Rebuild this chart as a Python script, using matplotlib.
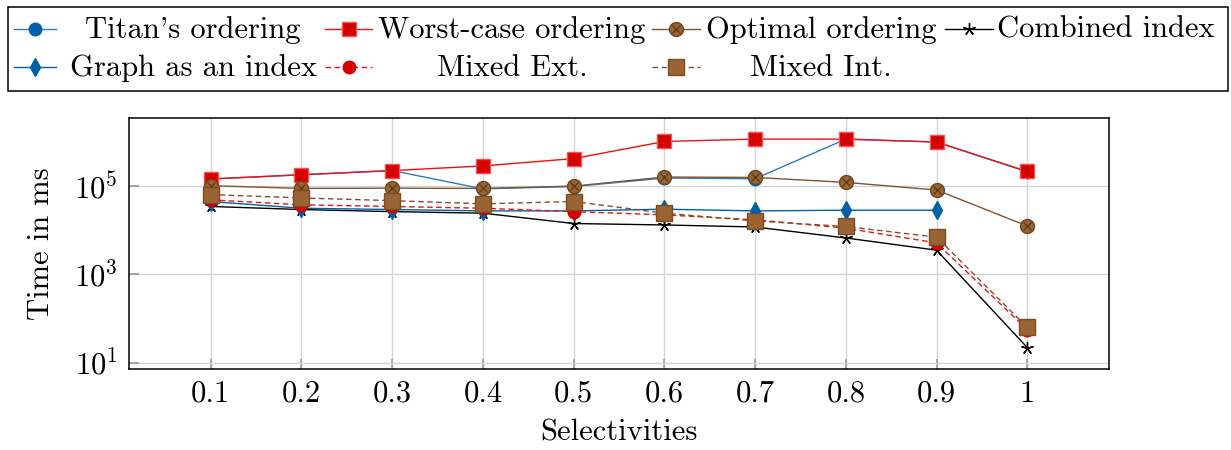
import matplotlib
matplotlib.use("Agg")
import matplotlib.pyplot as plt
from matplotlib.lines import Line2D
from matplotlib.patches import Rectangle

plt.rcParams["font.family"] = ["cmr10", "DejaVu Serif"]
plt.rcParams["mathtext.fontset"] = "cm"
plt.rcParams["axes.formatter.use_mathtext"] = True

FS = 22
W, H = 1231, 450

selectivity = [0.1, 0.2, 0.3, 0.4, 0.5, 0.6, 0.7, 0.8, 0.9, 1.0]
titan = [1.42e5, 1.77e5, 2.2e5, 8.5e4, 9.6e4, 1.49e5, 1.44e5, 1.13e6, 9.7e5, 2.05e5]
worst_case = [1.42e5, 1.77e5, 2.2e5, 2.8e5, 4.1e5, 1.0e6, 1.13e6, 1.13e6, 9.7e5, 2.1e5]
optimal = [1.0e5, 8.7e4, 8.8e4, 8.7e4, 9.8e4, 1.57e5, 1.54e5, 1.19e5, 8.0e4, 1.23e4]
combined = [3.4e4, 2.9e4, 2.6e4, 2.4e4, 1.4e4, 1.3e4, 1.17e4, 6.6e3, 3.5e3, 22]
graph_index = [4.4e4, 3.1e4, 2.9e4, 2.7e4, 2.7e4, 2.95e4, 2.7e4, 2.8e4, 2.8e4]
mixed_ext = [4.8e4, 3.7e4, 3.4e4, 3.1e4, 2.6e4, 2.2e4, 1.7e4, 1.1e4, 5.1e3, 56]
mixed_int = [6.3e4, 5.3e4, 4.6e4, 3.9e4, 4.4e4, 2.4e4, 1.6e4, 1.2e4, 6.9e3, 63]

BLUE_L, BLUE_M = "#2a7fc4", "#0060a8"
RED_L, RED_M = "#f01010", "#d40000"
BROWN_L, BROWN_M = "#7e5430", "#996333"

# label, y values, style kwargs, extra overlay marker
series = [
    ("Titan's ordering", titan,
     dict(color=BLUE_L, marker="o", ms=9, mfc=BLUE_M, mec=BLUE_M, ls="-"), None),
    ("Worst-case ordering", worst_case,
     dict(color=RED_L, marker="s", ms=10, mfc=RED_M, mec="#ff5050", ls="-"), None),
    ("Optimal ordering", optimal,
     dict(color=BROWN_L, marker="o", ms=10, mfc=BROWN_M, mec="#6e4520", ls="-"), "x"),
    ("Combined index", combined,
     dict(color="black", marker=(5, 2, 0), ms=9, mfc="black", mec="black", mew=1.0, ls="-"), None),
    ("Graph as an index", graph_index,
     dict(color=BLUE_M, marker="d", ms=9, mfc=BLUE_M, mec=BLUE_M, ls="-"), None),
    ("Mixed Ext.", mixed_ext,
     dict(color=RED_L, marker="o", ms=9, mfc=RED_M, mec=RED_M, ls=(0, (4, 2.5))), None),
    ("Mixed Int.", mixed_int,
     dict(color=BROWN_L, marker="s", ms=11, mfc=BROWN_M, mec="#7a4d25", ls=(0, (4, 2.5))), None),
]

fig = plt.figure(figsize=(W / 100, H / 100), dpi=100)
ax = fig.add_axes([129 / W, 1 - 369 / H, 980 / W, 251 / H])

for label, ys, style, overlay in series:
    xs = selectivity[:len(ys)]
    ax.plot(xs, ys, lw=1.0, **style)
    if overlay:
        ax.plot(xs, ys, ls="none", marker=overlay, ms=5.5, mec="#5a3818", mew=0.9)

ax.set_yscale("log")
ax.set_xlim(0.01, 1.09)
ax.set_ylim(10 ** 0.86, 10 ** 6.53)
ax.set_xticks(selectivity)
ax.set_xticklabels(["0.1", "0.2", "0.3", "0.4", "0.5", "0.6", "0.7", "0.8", "0.9", "1"])
ax.set_yticks([1e1, 1e3, 1e5])
ax.yaxis.set_minor_locator(matplotlib.ticker.NullLocator())
ax.tick_params(direction="in", length=7, width=1.2, color="#999999",
               labelsize=FS, pad=8)
ax.grid(True, color="#d4d4d4", lw=1.0)
ax.set_axisbelow(True)
for sp in ax.spines.values():
    sp.set_linewidth(1.1)

ax.set_xlabel("Selectivities", fontsize=FS)
ax.set_ylabel("Time in ms", fontsize=FS)
ax.xaxis.set_label_coords(0.5, -0.2)
ax.yaxis.set_label_coords(-0.076, 0.5)

# legend drawn by hand: 4 columns, text centred in each cell
fig.patches.append(Rectangle((8 / W, 1 - 91 / H), 1220 / W, 84 / H,
                             transform=fig.transFigure, fill=False,
                             ec="black", lw=1.1))
handle_x = [(14, 56), (325, 372), (652, 700), (945, 993)]
text_cx = [193, 512, 821, 1106]
rows = [(29, 38), (67, 76)]
for i, (label, ys, style, overlay) in enumerate(series):
    r, c = divmod(i, 4)
    hy, by = rows[r]
    x0, x1 = handle_x[c]
    xm = (x0 + x1) / 2
    ln = Line2D([x0 / W, xm / W, x1 / W], [1 - hy / H] * 3, lw=1.0,
                markevery=[1], transform=fig.transFigure, **style)
    fig.lines.append(ln)
    if overlay:
        fig.lines.append(Line2D([xm / W], [1 - hy / H], ls="none", marker=overlay,
                                ms=5.5, mec="#5a3818", mew=0.9,
                                transform=fig.transFigure))
    fig.text(text_cx[c] / W, 1 - by / H, label, ha="center", va="baseline",
             fontsize=FS)

fig.savefig("out.png", dpi=100)
